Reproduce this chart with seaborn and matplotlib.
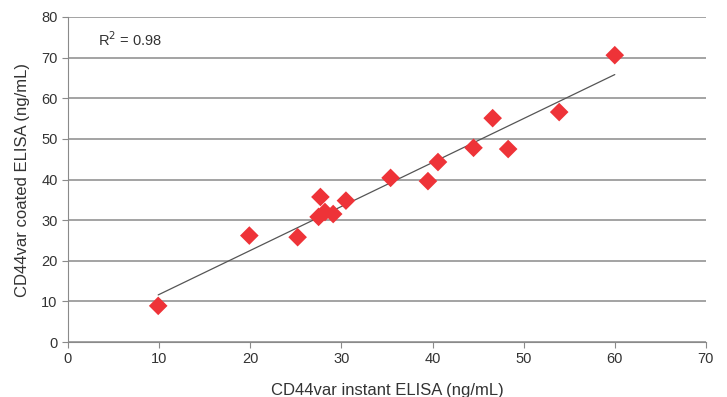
import matplotlib
matplotlib.use("Agg")
import matplotlib.pyplot as plt
import seaborn as sns
import numpy as np
import pandas as pd

instant = [9.9, 19.9, 25.2, 27.7, 27.5, 28.2, 29.1, 30.5, 35.4, 39.5, 40.6, 44.5, 46.6, 48.3, 53.9, 60.0]
coated = [8.9, 26.2, 25.8, 35.7, 30.8, 32.0, 31.5, 34.8, 40.4, 39.6, 44.3, 47.8, 55.1, 47.5, 56.6, 70.6]
x_ticks = [0, 10, 20, 30, 40, 50, 60, 70]
y_ticks = [0, 10, 20, 30, 40, 50, 60, 70, 80]

df = pd.DataFrame({"instant": instant, "coated": coated})

sns.set_style("white")
plt.rcParams["font.family"] = ["Liberation Sans", "DejaVu Sans"]

fig = plt.figure(figsize=(7.27, 3.97), dpi=100)
ax = fig.add_axes([0.0935, 0.1385, 0.8775, 0.8187])

sns.regplot(data=df, x="instant", y="coated", ax=ax, ci=None, truncate=True,
            scatter=False, line_kws={"color": "#555555", "linewidth": 0.9})
sns.scatterplot(data=df, x="instant", y="coated", ax=ax, marker="D", s=90,
                color="#EE3338", edgecolor="none", zorder=3)

ax.set_xlim(0, 70)
ax.set_ylim(0, 80)
ax.set_xticks(x_ticks)
ax.set_yticks(y_ticks)
ax.yaxis.grid(True, color="#8a8a8a", linewidth=1.1)
ax.set_axisbelow(True)
for s in ["top", "right"]:
    ax.spines[s].set_visible(False)
ax.spines["left"].set_color("#8a8a8a")
ax.spines["bottom"].set_color("#8a8a8a")
ax.tick_params(axis="both", direction="out", length=4, color="#8a8a8a",
               labelsize=10.5, labelcolor="#333333", bottom=True, left=True)
ax.set_xlabel("CD44var instant ELISA (ng/mL)", fontsize=12, color="#333333", labelpad=12)
ax.set_ylabel("CD44var coated ELISA (ng/mL)", fontsize=12, color="#333333", labelpad=8)
ax.text(0.047, 0.93, "R$^2$ = 0.98", transform=ax.transAxes, fontsize=10.5,
        color="#333333", va="center", ha="left")

fig.savefig("out.png", dpi=100)
